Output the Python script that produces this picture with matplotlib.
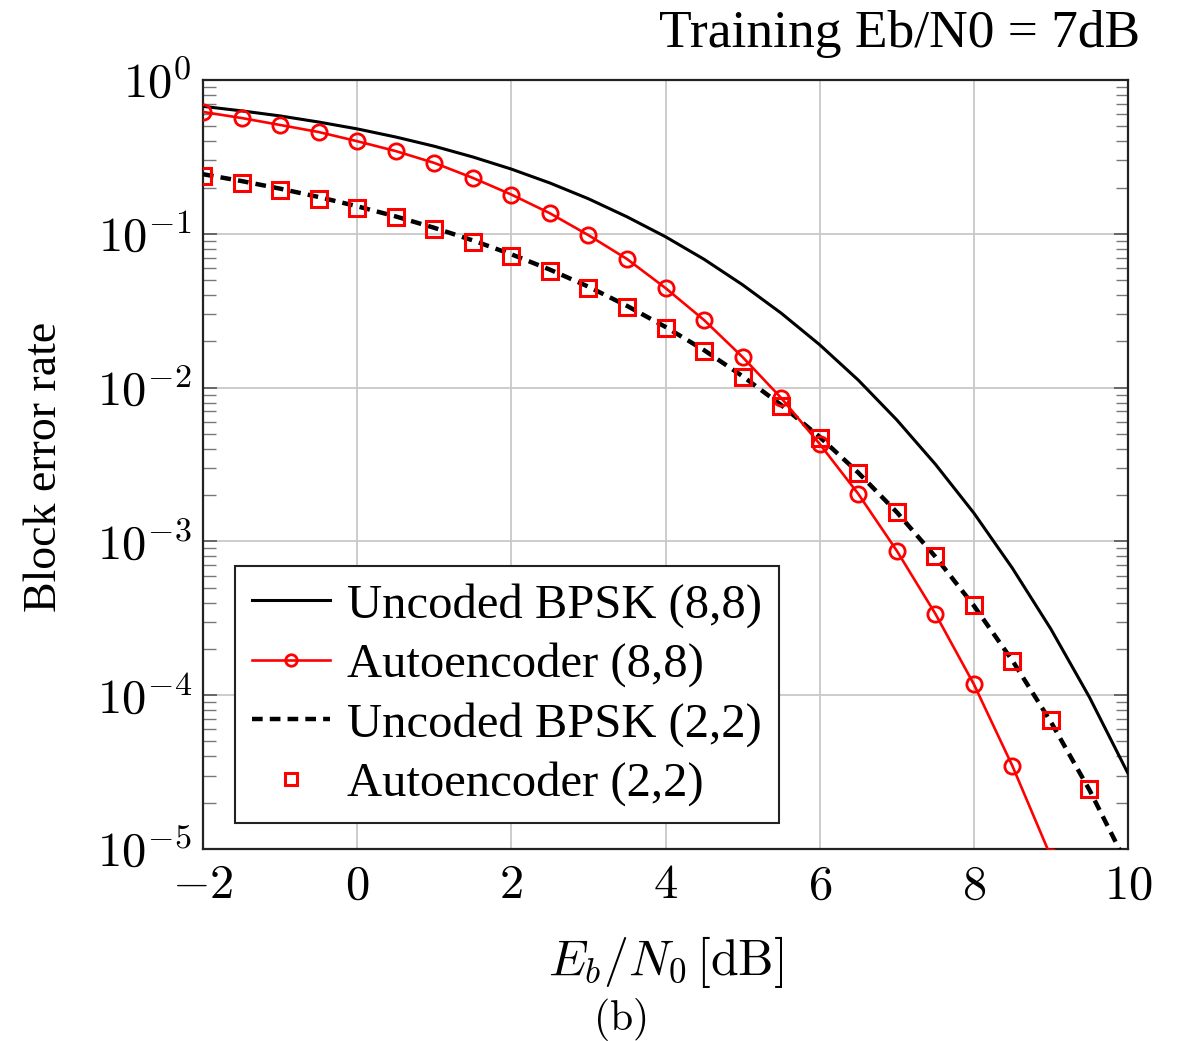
import math
import matplotlib
matplotlib.use("Agg")
import matplotlib.pyplot as plt
from matplotlib.ticker import FixedLocator, FuncFormatter, LogLocator, NullFormatter

plt.rcParams['mathtext.fontset'] = 'cm'
plt.rcParams['font.family'] = ['Liberation Serif', 'DejaVu Serif']

# Eb/N0 [dB]
snr = [-2, -1.5, -1, -0.5, 0, 0.5, 1, 1.5, 2, 2.5, 3, 3.5, 4, 4.5, 5, 5.5,
       6, 6.5, 7, 7.5, 8, 8.5, 9, 9.5, 10]

uncoded_88 = [0.674, 0.630, 0.584, 0.533, 0.481, 0.426, 0.371, 0.316, 0.2635,
              0.214, 0.169, 0.129, 0.0957, 0.0683, 0.0466, 0.0305, 0.0190,
              0.0112, 0.00617, 0.00318, 0.00153, 6.7e-4, 2.69e-4, 9.7e-5, 3.1e-5]

uncoded_22 = [0.244, 0.2203, 0.1966, 0.1735, 0.1510, 0.1297, 0.1094, 0.0906,
              0.0736, 0.0585, 0.0453, 0.0340, 0.0248, 0.01752, 0.01186, 0.00771,
              0.00478, 0.0028, 0.00155, 0.000796, 0.000382, 1.68e-4, 6.7e-5,
              2.42e-5, 7.7e-6]

ae_snr_88 = [-2, -1.5, -1, -0.5, 0, 0.5, 1, 1.5, 2, 2.5, 3, 3.5, 4, 4.5, 5, 5.5,
             6, 6.5, 7, 7.5, 8, 8.5, 9]
ae_88 = [0.62, 0.566, 0.51, 0.459, 0.40, 0.345, 0.289, 0.231, 0.18, 0.136,
         0.098, 0.0686, 0.0444, 0.0275, 0.0158, 0.00857, 0.0043, 0.00204,
         0.00087, 0.000339, 0.000118, 3.47e-5, 8.9e-6]

ae_snr_22 = [-2, -1.5, -1, -0.5, 0, 0.5, 1, 1.5, 2, 2.5, 3, 3.5, 4, 4.5, 5, 5.5,
             6, 6.5, 7, 7.5, 8, 8.5, 9, 9.5]
ae_22 = [0.238, 0.214, 0.193, 0.168, 0.147, 0.129, 0.107, 0.0885, 0.0718,
         0.0573, 0.0444, 0.0334, 0.0244, 0.0173, 0.0117, 0.00759, 0.0047,
         0.00279, 0.00155, 0.000803, 0.000386, 0.000167, 6.9e-5, 2.45e-5]

x_ticks = [-2, 0, 2, 4, 6, 8, 10]
y_ticks = [1e-5, 1e-4, 1e-3, 1e-2, 1e-1, 1e0]

W, H = 1178, 1041
fig = plt.figure(figsize=(W / 100, H / 100), dpi=100)
ax = fig.add_axes([203 / W, 1 - 849 / H, (1128 - 203) / W, (849 - 80) / H])

ax.plot(snr, uncoded_88, color='black', lw=2.2, label='Uncoded BPSK (8,8)', zorder=3)
ax.plot(ae_snr_88, ae_88, color='red', lw=1.9, marker='o', markersize=11,
        markerfacecolor='none', markeredgewidth=2.0, label='Autoencoder (8,8)', zorder=4)
ax.plot(snr, uncoded_22, color='black', lw=3.2, ls=(0, (2.4, 1.6)),
        label='Uncoded BPSK (2,2)', zorder=3)
ax.plot(ae_snr_22, ae_22, ls='none', marker='s', markersize=11,
        markerfacecolor='none', markeredgecolor='red', markeredgewidth=2.2,
        label='Autoencoder (2,2)', zorder=5)

ax.set_yscale('log')
ax.set_xlim(-2, 10)
ax.set_ylim(1e-5, 1)

ax.xaxis.set_major_locator(FixedLocator(x_ticks))
ax.xaxis.set_major_formatter(FuncFormatter(lambda v, p: r'$%d$' % round(v)))
ax.yaxis.set_major_locator(FixedLocator(y_ticks))
ax.yaxis.set_major_formatter(FuncFormatter(lambda v, p: r'$10^{%d}$' % round(math.log10(v))))
ax.yaxis.set_minor_locator(LogLocator(base=10, subs=[2, 3, 4, 5, 6, 7, 8, 9], numticks=20))
ax.yaxis.set_minor_formatter(NullFormatter())

ax.tick_params(axis='both', which='major', labelsize=35, direction='in')
ax.tick_params(axis='x', which='major', length=0, pad=11)
ax.tick_params(axis='y', which='major', length=10, width=1.2, color='#555555',
               left=True, right=True, pad=8)
ax.tick_params(axis='y', which='minor', length=9, width=1.0, color='#777777',
               direction='in', left=True, right=True)

ax.grid(True, which='major', color='#c8c8c8', lw=1.3)
ax.set_axisbelow(True)
for s in ax.spines.values():
    s.set_linewidth(1.6)
    s.set_color('#222222')

leg = ax.legend(loc='lower left', bbox_to_anchor=(0.0346, 0.0338), borderaxespad=0,
                fontsize=35, frameon=True, fancybox=False, framealpha=1,
                edgecolor='#222222', handlelength=1.6, handletextpad=0.35,
                labelspacing=0.3, borderpad=0.35, markerscale=0.75)
leg.get_frame().set_linewidth(1.5)

ax.set_ylabel('Block error rate', fontsize=33)
ax.yaxis.set_label_coords(-0.148, 0.497)

fig.text(666 / W, 1 - 975 / H, r'$E_b/N_0\,[\mathrm{dB}]$', fontsize=36,
         ha='center', va='baseline')
fig.text(620 / W, 1 - 1030 / H, r'$\mathrm{(b)}$', fontsize=30,
         ha='center', va='baseline')
fig.text(1140 / W, 1 - 47 / H, 'Training Eb/N0 = 7dB', fontsize=38.5,
         ha='right', va='baseline')

fig.savefig('out.png', dpi=100)
